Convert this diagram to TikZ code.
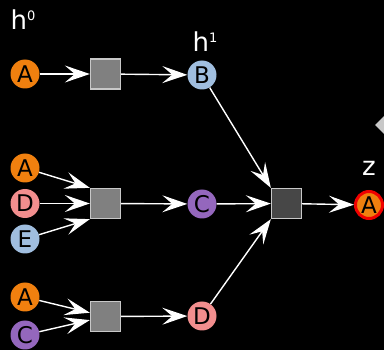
\documentclass[tikz,border=0pt]{standalone}
\usepackage{fontspec}
\setmainfont{DejaVu Sans}
\usetikzlibrary{arrows.meta,shapes.geometric}
\definecolor{corange}{HTML}{F0800F}
\definecolor{cpink}{HTML}{F28E8E}
\definecolor{cblue}{HTML}{A0BEDF}
\definecolor{cpurple}{HTML}{9467BD}
\definecolor{cgray}{HTML}{808080}
\definecolor{cdark}{HTML}{474747}
\definecolor{cborder}{HTML}{C8C8C8}
\definecolor{cred}{HTML}{F00000}
\tikzset{
  circ/.style={circle,minimum size=29pt,inner sep=0pt,text=black,font=\fontsize{23}{23}\selectfont},
  sqbox/.style={rectangle,minimum size=30pt,inner sep=0pt,draw=cborder,line width=1.3pt,fill=cgray},
  darkbox/.style={sqbox,fill=cdark},
  lbl/.style={text=white,inner sep=0pt},
  conn/.style={draw=white,line width=1.4pt,-{Stealth[length=25pt,width=17pt,inset=10pt]}},
}
\newcommand{\hlab}[1]{{\fontsize{26}{26}\selectfont h}\raisebox{9pt}{\fontsize{13}{13}\selectfont #1}}
\begin{document}
\begin{tikzpicture}[x=1pt,y=-1pt]
\fill[black] (0,0) rectangle (384,350);
\useasboundingbox (0,0) rectangle (384,350);
% partial diamond at right edge
\node[diamond,fill=cborder,minimum size=24pt,inner sep=0pt] (dia) at (387,125) {};
% labels
\node[lbl] (h0) at (23,20) {\hlab{0}};
\node[lbl] (h1) at (205,42) {\hlab{1}};
\node[lbl,font=\fontsize{26}{26}\selectfont] (zl) at (369,168) {z};
% row 1
\node[circ,fill=corange] (a1) at (25,74) {A};
\node[sqbox] (s1) at (105.5,74) {};
\node[circ,fill=cblue] (b) at (202,75) {B};
% row 2
\node[circ,fill=corange] (a2) at (25,168) {A};
\node[circ,fill=cpink] (d2) at (25,203.5) {D};
\node[circ,fill=cblue] (e2) at (25,239) {E};
\node[sqbox] (s2) at (105.5,203.5) {};
\node[circ,fill=cpurple] (c) at (202,204) {C};
\node[darkbox] (s4) at (286.5,203.5) {};
\node[circ,fill=corange,draw=cred,line width=3pt,minimum size=27pt] (out) at (369,205) {A};
% row 3
\node[circ,fill=corange] (a3) at (25,297) {A};
\node[circ,fill=cpurple] (c3) at (25,335) {C};
\node[sqbox] (s3) at (105.5,316.5) {};
\node[circ,fill=cpink] (d) at (202,316) {D};
% connectors
\draw[conn] (a1) -- (s1);
\draw[conn] (s1) -- (b);
\draw[conn] (a2) -- (s2.north west);
\draw[conn] (d2) -- (s2);
\draw[conn] (e2) -- (s2.south west);
\draw[conn] (s2) -- (c);
\draw[conn] (a3) -- (s3);
\draw[conn] (c3) -- (s3);
\draw[conn] (s3) -- (d);
\draw[conn] (b) -- (s4.north west);
\draw[conn] (c) -- (s4);
\draw[conn] (d) -- (s4.south west);
\draw[conn] (s4) -- (out);
\end{tikzpicture}
\end{document}
